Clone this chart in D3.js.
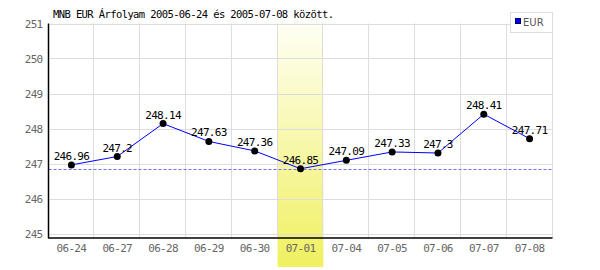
<!DOCTYPE html>
<meta charset="utf-8">
<title>MNB EUR árfolyam</title>
<style>
body {
  margin: 0px;
  background: #fff;
}
svg {
  display: block;
}
.grid line {
  stroke: #dddddd;
  stroke-width: 1px;
}
.tick text {
  font: 11px "DejaVu Sans Mono", monospace;
  letter-spacing: -0.7px;
  fill: #666;
}
.lbl {
  font: 11px "DejaVu Sans Mono", monospace;
  letter-spacing: -0.7px;
  fill: #000;
  text-anchor: middle;
}
.minline {
  stroke: #7070ff;
  stroke-width: 1.2px;
  stroke-dasharray: 3 2;
}
</style>
<script src="https://d3js.org/d3.v7.min.js"></script>
<body>
<script>

var width = 600, height = 270;

// chart data
var dates = ["06-24", "06-27", "06-28", "06-29", "06-30", "07-01", "07-04", "07-05", "07-06", "07-07", "07-08"];
var values = [246.96, 247.2, 248.14, 247.63, 247.36, 246.85, 247.09, 247.33, 247.3, 248.41, 247.71];
var labels = ["246.96", "247.2", "248.14", "247.63", "247.36", "246.85", "247.09", "247.33", "247.3", "248.41", "247.71"];
var yTicks = [245, 246, 247, 248, 249, 250, 251];
var highlight = "07-01";
var title = "MNB EUR Árfolyam 2005-06-24 és 2005-07-08 között.";
var seriesName = "EUR";

var pLeft = 48.5, pRight = 552.5, pTop = 23.5, pBottom = 238;

var svg = d3.select("body").append("svg")
    .attr("width", width)
    .attr("height", height);

var x = d3.scaleBand()
    .domain(dates)
    .range([pLeft, pRight]);

var y = d3.scaleLinear()
    .domain([245, 251])
    .range([233.5, 23.5]);

// highlighted day, yellow gradient
var grad = svg.append("defs").append("linearGradient")
    .attr("id", "hl")
    .attr("x1", 0).attr("y1", 0).attr("x2", 0).attr("y2", 1);
grad.append("stop").attr("offset", "0%").attr("stop-color", "#fffff4");
grad.append("stop").attr("offset", "100%").attr("stop-color", "#f0f060");

svg.append("rect")
    .attr("x", x(highlight))
    .attr("y", pTop)
    .attr("width", x.bandwidth())
    .attr("height", 267 - pTop)
    .attr("fill", "url(#hl)");

// grid
var grid = svg.append("g").attr("class", "grid");
grid.selectAll("line.h")
    .data(yTicks)
  .enter().append("line")
    .attr("class", "h")
    .attr("x1", pLeft).attr("x2", pRight)
    .attr("y1", function(d) { return Math.round(y(d)) + 0.5; })
    .attr("y2", function(d) { return Math.round(y(d)) + 0.5; });
grid.selectAll("line.v")
    .data(dates)
  .enter().append("line")
    .attr("class", "v")
    .attr("x1", function(d) { return Math.round(x(d) + x.step()) - 0.5; })
    .attr("x2", function(d) { return Math.round(x(d) + x.step()) - 0.5; })
    .attr("y1", pTop).attr("y2", pBottom);

// minimum reference line
var yMin = Math.round(y(d3.min(values))) + 0.5;
svg.append("line")
    .attr("class", "minline")
    .attr("x1", pLeft).attr("x2", pRight)
    .attr("y1", yMin)
    .attr("y2", yMin);

// axes
var yAxis = svg.append("g")
    .attr("transform", "translate(" + (pLeft - 1) + ",0)")
    .call(d3.axisLeft(y).tickValues(yTicks).tickSize(0).tickPadding(5).tickFormat(d3.format("d")));
yAxis.select(".domain").remove();
yAxis.selectAll(".tick text").attr("dy", "0.35em");

var xAxis = svg.append("g")
    .attr("transform", "translate(0," + pBottom + ")")
    .call(d3.axisBottom(x).tickSize(0).tickPadding(6));
xAxis.select(".domain").remove();
xAxis.selectAll(".tick text").attr("y", 14).attr("dy", 0);

svg.append("line")
    .attr("x1", pLeft).attr("x2", pLeft)
    .attr("y1", pTop).attr("y2", pBottom + 0.5)
    .attr("stroke", "#000").attr("stroke-width", 1.5);
svg.append("line")
    .attr("x1", pLeft).attr("x2", pRight)
    .attr("y1", pBottom).attr("y2", pBottom)
    .attr("stroke", "#000").attr("stroke-width", 1.5);

// series
var cx = function(d, i) { return x(dates[i]) + x.bandwidth() / 2; };

svg.append("path")
    .datum(values)
    .attr("fill", "none")
    .attr("stroke", "#0000ff")
    .attr("stroke-width", 1)
    .attr("d", d3.line().x(cx).y(function(d) { return y(d); }));

svg.selectAll("circle.pt")
    .data(values)
  .enter().append("circle")
    .attr("class", "pt")
    .attr("cx", cx)
    .attr("cy", function(d) { return y(d); })
    .attr("r", 3.5)
    .attr("fill", "#000");

svg.selectAll("text.lbl")
    .data(values)
  .enter().append("text")
    .attr("class", "lbl")
    .attr("x", cx)
    .attr("y", function(d) { return y(d) - 5; })
    .text(function(d, i) { return labels[i]; });

// title
svg.append("text")
    .attr("x", 53)
    .attr("y", 18)
    .style("font", "10.5px 'DejaVu Sans Mono', monospace")
    .style("letter-spacing", "-0.6px")
    .style("fill", "#000")
    .text(title);

// legend
var lg = svg.append("g");
lg.append("rect")
    .attr("x", 510.5).attr("y", 12.5)
    .attr("width", 42).attr("height", 20)
    .attr("fill", "#fff").attr("stroke", "#dddddd");
lg.append("rect")
    .attr("x", 515.5).attr("y", 18.5)
    .attr("width", 5).attr("height", 5)
    .attr("fill", "#0000ff").attr("stroke", "#000066");
lg.append("text")
    .attr("x", 523)
    .attr("y", 25.5)
    .style("font", "10px 'DejaVu Sans', sans-serif")
    .style("fill", "#555")
    .text(seriesName);

</script>
